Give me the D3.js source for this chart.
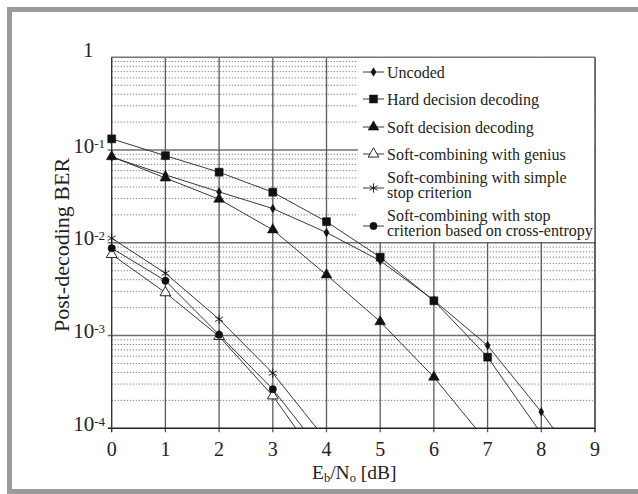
<!DOCTYPE html>
<html>
<head>
<meta charset="utf-8">
<script src="https://cdn.jsdelivr.net/npm/d3@7"></script>
<style>
  body { margin: 0; background: #fff; }
</style>
</head>
<body>
<div id="chart"></div>
<script>
// values
var ebno = [0, 1, 2, 3, 4, 5, 6, 7, 8];
var uncoded = [0.084, 0.054, 0.0354, 0.0234, 0.0129, 0.0064, 0.0024, 0.00078, 0.00015];
var hardDecision = [0.132, 0.087, 0.0577, 0.0351, 0.0169, 0.0070, 0.00237, 0.000585];
var softDecision = [0.085, 0.050, 0.0295, 0.0138, 0.00451, 0.00141, 0.000356];
var genius = [0.0075, 0.0029, 0.00098, 0.000224];
var simpleStop = [0.0112, 0.0047, 0.0015, 0.000393];
var crossEntropy = [0.00875, 0.0039, 0.00102, 0.000264];
// Eb/No where each curve leaves the plot at 10^-4
var endX = [8.22, 7.93, 6.78, 3.43, 3.82, 3.57];

var seriesNames = ["Uncoded", "Hard decision decoding", "Soft decision decoding",
  "Soft-combining with genius", "Soft-combining with simple|stop criterion",
  "Soft-combining with stop|criterion based on cross-entropy"];
var xTicks = [0, 1, 2, 3, 4, 5, 6, 7, 8, 9];
var yTicks = [1, 1e-1, 1e-2, 1e-3, 1e-4];
var yTickExp = ["", "-1", "-2", "-3", "-4"];

var W = 638, H = 494;
var svg = d3.select("#chart").append("svg")
  .attr("width", W).attr("height", H)
  .style("font-family", "'Liberation Serif', Tinos, 'Times New Roman', 'DejaVu Serif', serif");

svg.append("rect").attr("width", W).attr("height", H).attr("fill", "#fff");
// grey outer frame
svg.append("rect")
  .attr("x", 9.5).attr("y", 9.5).attr("width", 640).attr("height", 482)
  .attr("fill", "none").attr("stroke", "#9b9b9b").attr("stroke-width", 5);

var x = d3.scaleLinear().domain([0, 9]).range([111.7, 595]);
var y = d3.scaleLog().domain([1e-4, 1]).range([428.3, 57.3]);

var grid = svg.append("g");

// minor dotted lines
var minors = [];
[1e-4, 1e-3, 1e-2, 1e-1].forEach(function(d) {
  for (var k = 2; k <= 9; k++) minors.push(d * k);
});
grid.selectAll(".minor").data(minors).enter().append("line")
  .attr("x1", x(0)).attr("x2", x(9))
  .attr("y1", function(d) { return y(d); }).attr("y2", function(d) { return y(d); })
  .attr("stroke", "#555").attr("stroke-width", 0.8)
  .attr("stroke-dasharray", "1.2,1.8");

// decade lines, with short tick outside
grid.selectAll(".major").data(yTicks.slice(1, 4)).enter().append("line")
  .attr("x1", x(0) - 4).attr("x2", x(9))
  .attr("y1", function(d) { return y(d); }).attr("y2", function(d) { return y(d); })
  .attr("stroke", "#6f6f6f").attr("stroke-width", 1.4);

// vertical lines
grid.selectAll(".vert").data(xTicks.slice(1, 9)).enter().append("line")
  .attr("x1", function(d) { return x(d); }).attr("x2", function(d) { return x(d); })
  .attr("y1", y(1)).attr("y2", y(1e-4) + 4)
  .attr("stroke", "#5a5a5a").attr("stroke-width", 1.3);

// plot borders
svg.append("line").attr("x1", x(0)).attr("x2", x(9)).attr("y1", y(1)).attr("y2", y(1))
  .attr("stroke", "#777").attr("stroke-width", 1.4);
svg.append("line").attr("x1", x(0) - 4).attr("x2", x(9)).attr("y1", y(1e-4)).attr("y2", y(1e-4))
  .attr("stroke", "#222").attr("stroke-width", 1.4);
svg.append("line").attr("x1", x(0)).attr("x2", x(0)).attr("y1", y(1)).attr("y2", y(1e-4) + 4)
  .attr("stroke", "#333").attr("stroke-width", 1.4);
svg.append("line").attr("x1", x(9)).attr("x2", x(9)).attr("y1", y(1)).attr("y2", y(1e-4) + 4)
  .attr("stroke", "#222").attr("stroke-width", 1.4);

// legend background hides the grid
var legX = 358;
svg.append("rect")
  .attr("x", legX).attr("y", y(1) + 0.8)
  .attr("width", x(9) - legX - 0.8).attr("height", y(1e-2) - y(1) - 1.6)
  .attr("fill", "#fff");

// tick labels
svg.selectAll(".xt").data(xTicks).enter().append("text")
  .attr("x", function(d) { return x(d); }).attr("y", 456)
  .attr("text-anchor", "middle").attr("font-size", 20).attr("fill", "#222")
  .text(function(d) { return d; });

var yl = svg.selectAll(".yt").data(yTicks).enter().append("text")
  .attr("x", function(d, i) { return i === 0 ? 93.5 : 105; })
  .attr("y", function(d, i) { return y(d) + (i === 0 ? 0 : 2.5); })
  .attr("text-anchor", "end").attr("font-size", 21).attr("fill", "#222");
yl.append("tspan").text(function(d, i) { return i === 0 ? "1" : "10"; });
yl.append("tspan").attr("font-size", 13).attr("dy", -5)
  .text(function(d, i) { return yTickExp[i]; });

// axis titles
svg.append("text")
  .attr("transform", "translate(69,245) rotate(-90)")
  .attr("text-anchor", "middle").attr("font-size", 22).attr("fill", "#222")
  .text("Post-decoding BER");

var xt = svg.append("text").attr("x", 312).attr("y", 479).attr("font-size", 19.5).attr("fill", "#222");
xt.append("tspan").text("E");
xt.append("tspan").attr("font-size", 12.5).attr("dy", 3).text("b");
xt.append("tspan").attr("dy", -3).text("/N");
xt.append("tspan").attr("font-size", 12.5).attr("dy", 3).text("o");
xt.append("tspan").attr("dy", -3).text(" [dB]");

// curves
var allSeries = [uncoded, hardDecision, softDecision, genius, simpleStop, crossEntropy];
var symbols = [
  { type: d3.symbolDiamond, size: 22, fill: "#111" },
  { type: d3.symbolSquare, size: 64, fill: "#111" },
  { type: d3.symbolTriangle, size: 50, fill: "#111" },
  { type: d3.symbolTriangle, size: 50, fill: "#fff" },
  { type: d3.symbolAsterisk, size: 60, fill: "none" },
  { type: d3.symbolCircle, size: 42, fill: "#111" }
];

var line = d3.line()
  .x(function(d) { return x(d[0]); })
  .y(function(d) { return y(d[1]); });

svg.append("clipPath").attr("id", "plotclip").append("rect")
  .attr("x", x(0)).attr("y", y(1)).attr("width", x(9) - x(0)).attr("height", y(1e-4) - y(1));

var curves = svg.append("g").attr("clip-path", "url(#plotclip)");
allSeries.forEach(function(vals, i) {
  var pts = vals.map(function(v, j) { return [ebno[j], v]; });
  pts.push([endX[i], 1e-4]);
  curves.append("path").datum(pts)
    .attr("d", line).attr("fill", "none")
    .attr("stroke", "#222").attr("stroke-width", 0.9);
});

function drawMarker(g, s, cx, cy) {
  g.append("path")
    .attr("d", d3.symbol().type(s.type).size(s.size)())
    .attr("transform", "translate(" + cx + "," + cy + ")")
    .attr("fill", s.fill)
    .attr("stroke", "#111").attr("stroke-width", s.fill === "#111" ? 0.5 : 0.9);
}

var marks = svg.append("g");
allSeries.forEach(function(vals, i) {
  vals.forEach(function(v, j) {
    drawMarker(marks, symbols[i], x(ebno[j]), y(v));
  });
});

// legend
var legRows = [72, 99, 127, 154, 188, 226];
seriesNames.forEach(function(name, i) {
  var ly = legRows[i];
  svg.append("line").attr("x1", 363).attr("x2", 384).attr("y1", ly).attr("y2", ly)
    .attr("stroke", "#222").attr("stroke-width", 0.9);
  drawMarker(svg, symbols[i], 373.5, ly);
  var parts = name.split("|");
  parts.forEach(function(p, k) {
    svg.append("text")
      .attr("x", 387)
      .attr("y", parts.length === 1 ? ly + 5.5 : ly - 5 + k * 15)
      .attr("font-size", 16).attr("fill", "#222")
      .text(p);
  });
});
</script>
</body>
</html>
